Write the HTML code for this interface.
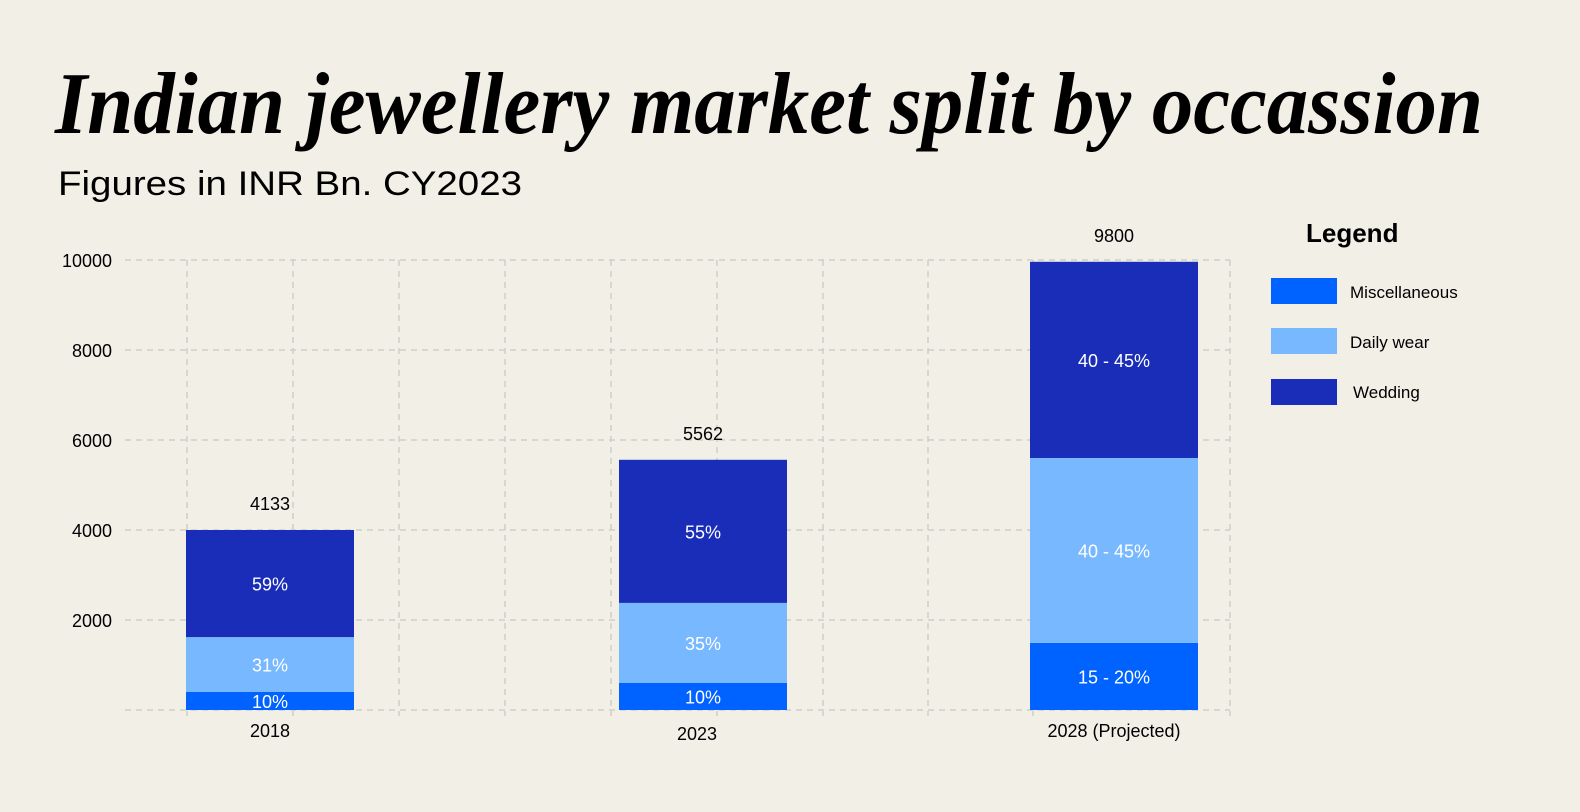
<!DOCTYPE html>
<html><head><meta charset="utf-8"><style>
html,body{margin:0;padding:0;background:#f2efe7;}
svg{display:block;}
</style></head><body>
<svg id="chart" width="1580" height="812" viewBox="0 0 1580 812">
<rect width="1580" height="812" fill="#f2efe7"/>
<text x="55" y="133" font-family="Liberation Serif, serif" font-weight="bold" font-style="italic" font-size="88" textLength="1428" lengthAdjust="spacingAndGlyphs" fill="#000">Indian jewellery market split by occassion</text>
<text x="58" y="195" font-family="Liberation Sans, sans-serif" font-size="34" textLength="464" lengthAdjust="spacingAndGlyphs" fill="#000">Figures in INR Bn. CY2023</text>
<g id="grid"></g>
<g id="yaxis"></g>
<g id="bars"></g>
<g>
<text x="1306" y="242" font-family="Liberation Sans, sans-serif" font-weight="bold" font-size="26" fill="#000">Legend</text>
<rect x="1271" y="278" width="66" height="26" fill="#0062ff"/>
<text x="1350" y="298" font-family="Liberation Sans, sans-serif" font-size="17" fill="#000">Miscellaneous</text>
<rect x="1271" y="328" width="66" height="26" fill="#78b8ff"/>
<text x="1350" y="348" font-family="Liberation Sans, sans-serif" font-size="17" fill="#000">Daily wear</text>
<rect x="1271" y="379" width="66" height="26" fill="#1a2db8"/>
<text x="1353" y="398" font-family="Liberation Sans, sans-serif" font-size="17" fill="#000">Wedding</text>
</g>
</svg>
<script>
const categories = ["2018", "2023", "2028 (Projected)"];
const totals = ["4133", "5562", "9800"];
const miscValues = [400, 600, 1490];
const dailyValues = [1220, 1780, 4110];
const weddingValues = [2380, 3180, 4360];
const miscLabels = ["10%", "10%", "15 - 20%"];
const dailyLabels = ["31%", "35%", "40 - 45%"];
const weddingLabels = ["59%", "55%", "40 - 45%"];
const yTicks = [2000, 4000, 6000, 8000, 10000];

const NS = "http://www.w3.org/2000/svg";
const y0 = 710, pxPer = 0.045;
function yScale(v){ return y0 - v * pxPer; }
const barX = [186, 619, 1030], barW = 168;
function mk(tag, attrs, parent){ const e = document.createElementNS(NS, tag); for (const k in attrs) e.setAttribute(k, attrs[k]); parent.appendChild(e); return e; }

const grid = document.getElementById('grid');
[0].concat(yTicks).forEach(v => {
  const l = mk('line', {x1:125, x2:1230, y1:yScale(v), y2:yScale(v), stroke:'#cfcdc8', 'stroke-width':1.5, 'stroke-dasharray':'6 5'}, grid);
  
  
});
[187, 293, 399, 505, 611, 717, 823, 928, 1033, 1230].forEach(x => {
  const l = mk('line', {x1:x, x2:x, y1:260, y2:716, stroke:'#cfcdc8', 'stroke-width':1.5, 'stroke-dasharray':'6 5'}, grid);
  
  
});

const yaxis = document.getElementById('yaxis');
yTicks.forEach(v => {
  const t = mk('text', {x:112, y:yScale(v)+7, 'text-anchor':'end', 'font-family':'Liberation Sans, sans-serif', 'font-size':18, fill:'#000'}, yaxis);
  t.textContent = String(v);
  
  
});

const bars = document.getElementById('bars');
const series = [
  {vals: miscValues, labels: miscLabels, color:'#0062ff', name:'misc'},
  {vals: dailyValues, labels: dailyLabels, color:'#78b8ff', name:'daily'},
  {vals: weddingValues, labels: weddingLabels, color:'#1a2db8', name:'wedding'}
];
categories.forEach((c, i) => {
  let base = 0;
  const cx = barX[i] + barW/2;
  series.forEach(s => {
    const top = base + s.vals[i];
    const r = mk('rect', {x:barX[i], y:yScale(top), width:barW, height:yScale(base)-yScale(top), fill:s.color}, bars);
    
    
    const t = mk('text', {x:cx, y:(yScale(top)+yScale(base))/2+7, 'text-anchor':'middle', 'font-family':'Liberation Sans, sans-serif', 'font-size':18, fill:'#fff'}, bars);
    t.textContent = s.labels[i];
    
    
    base = top;
  });
  const tt = mk('text', {x:cx, y:yScale(base)-20, 'text-anchor':'middle', 'font-family':'Liberation Sans, sans-serif', 'font-size':18, fill:'#000'}, bars);
  tt.textContent = totals[i];
  
  
  const ct = mk('text', {x:cx-(i==1?6:0), y:i==1?740:737, 'text-anchor':'middle', 'font-family':'Liberation Sans, sans-serif', 'font-size':18, fill:'#000'}, bars);
  ct.textContent = c;
  
  
});
</script>
</body></html>
